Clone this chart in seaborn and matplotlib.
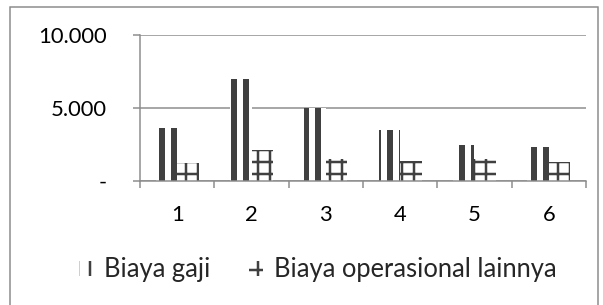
import matplotlib
matplotlib.use("Agg")
import matplotlib.pyplot as plt
import matplotlib.patches as mpatches
import seaborn as sns
import pandas as pd
import numpy as np

categories = ["1", "2", "3", "4", "5", "6"]
biaya_gaji = [3600, 7000, 5000, 3500, 2500, 2300]
biaya_operasional = [1200, 2100, 1500, 1400, 1500, 1300]
series_names = ["Biaya gaji", "Biaya operasional lainnya"]
ytick_values = [0, 5000, 10000]
ytick_labels = ["-", "5.000", "10.000"]

df = pd.DataFrame({
    "kategori": categories * 2,
    "nilai": biaya_gaji + biaya_operasional,
    "seri": [series_names[0]] * len(categories) + [series_names[1]] * len(categories),
})

sns.set_style("white")
plt.rcParams["font.family"] = ["Lato", "DejaVu Sans"]
plt.rcParams["hatch.linewidth"] = 2.5

DPI = 72
W, H = 603, 305
fig = plt.figure(figsize=(W / DPI, H / DPI), dpi=DPI)
fig.patch.set_facecolor("white")

# outer chart border
fig.add_artist(mpatches.Rectangle((10 / W, -0.05), (598 - 10) / W, 1.05 - 7 / H,
                                  transform=fig.transFigure, fill=False,
                                  edgecolor="#8a8a8a", linewidth=1.5))

ax = fig.add_axes([140 / W, 124 / H, (586 - 140) / W, 146 / H])

sns.barplot(data=df, x="kategori", y="nilai", hue="seri", order=categories,
            hue_order=series_names, width=0.58, ax=ax, palette=["white", "white"],
            legend=True, saturation=1)

dark = "#404040"
hatches = ["|", "+"]
hlw = [6, 2.5]
for i, cont in enumerate(ax.containers):
    for p in cont:
        p.set_facecolor("white")
        p.set_edgecolor(dark)
        p.set_linewidth(0)
        p.set_hatch(hatches[i])
        if hasattr(p, "set_hatch_linewidth"):
            p.set_hatch_linewidth(hlw[i])

ax.set_ylim(0, 10000)
ax.set_xlim(-0.5, 5.5)
ax.set_yticks(ytick_values)
ax.set_yticklabels(ytick_labels)
ax.yaxis.grid(True, color="#8c8c8c", linewidth=1.5)
ax.set_axisbelow(True)
ax.set_xlabel("")
ax.set_ylabel("")

for s in ["top", "right"]:
    ax.spines[s].set_visible(False)
for s in ["left", "bottom"]:
    ax.spines[s].set_color("#8c8c8c")
    ax.spines[s].set_linewidth(1.5)

# x ticks at category boundaries, labels at centers
ax.set_xticks(np.arange(-0.5, 6, 1.0))
ax.set_xticklabels([""] * 7)
ax.set_xticks(np.arange(0, 6), minor=True)
ax.set_xticklabels(categories, minor=True)
ax.tick_params(axis="x", which="major", length=7, width=1.5, color="#8c8c8c", direction="out")
ax.tick_params(axis="x", which="minor", length=0, pad=24, labelsize=22, labelcolor="black")
ax.tick_params(axis="y", length=7, width=1.5, color="#8c8c8c", direction="out",
               pad=26, labelsize=22, labelcolor="black")
ax.tick_params(left=True, bottom=True)

handles, labels = ax.get_legend_handles_labels()
ax.legend_.remove()
for i, h in enumerate(handles):
    h.set_facecolor("white")
    h.set_edgecolor(dark)
    h.set_linewidth(0)
    h.set_hatch(hatches[i])
    if hasattr(h, "set_hatch_linewidth"):
        h.set_hatch_linewidth([4, 2][i])
fig.legend(handles, series_names, loc="center", bbox_to_anchor=(318 / W, 1 - 270 / H),
           ncol=2, frameon=False, fontsize=25.5, handlelength=0.55, handleheight=0.55,
           handletextpad=0.45, columnspacing=1.5)

fig.savefig("out.png", dpi=DPI, facecolor="white")
